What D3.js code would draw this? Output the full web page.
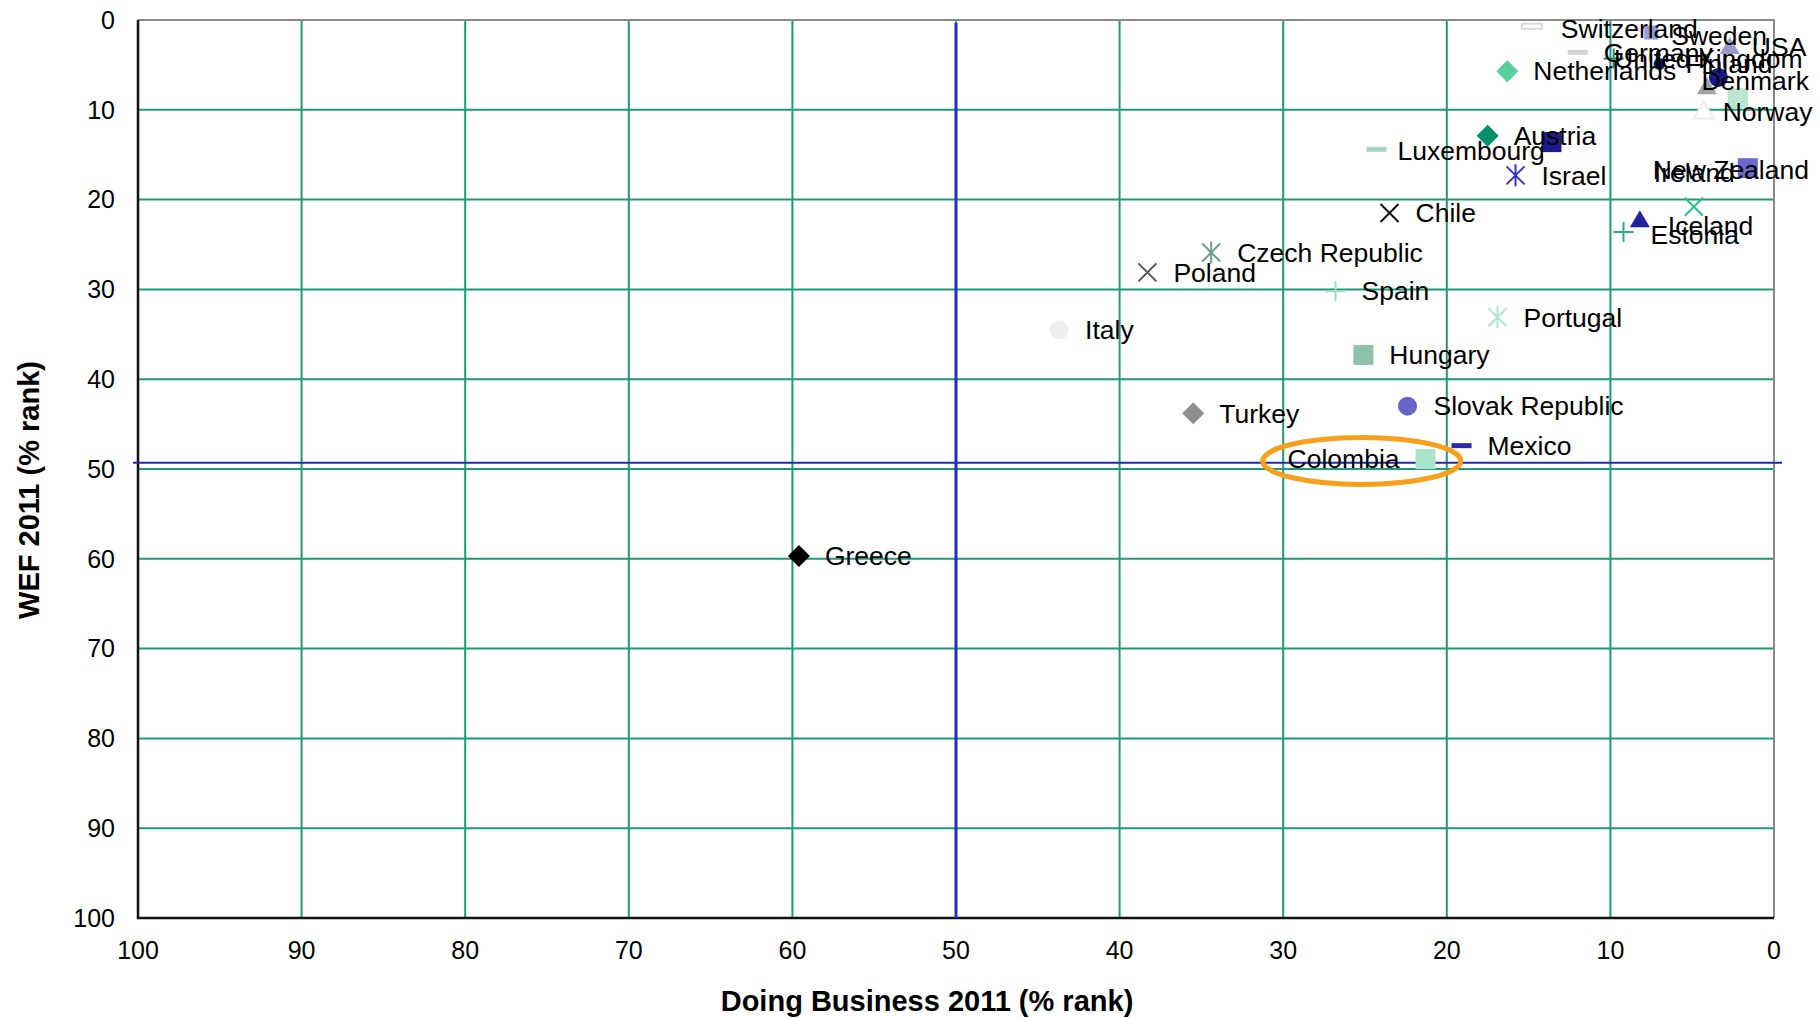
<!DOCTYPE html>
<html>
<head>
<meta charset="utf-8">
<script src="https://cdn.jsdelivr.net/npm/d3@7"></script>
<style>
	body { margin: 0; background: #fff; }
	svg { display: block; font-family: 'Liberation Sans', Arial, sans-serif; }
	.grid line { stroke: #1d9a77; stroke-width: 2; }
	.tick-label { font-size: 25px; fill: #000; }
	.label { font-size: 26.5px; fill: #000; }
	.axis-title { font-size: 29px; font-weight: bold; fill: #000; }
</style>
</head>
<body>
<div class="container"></div>
<script>
// countries and their % rank in Doing Business 2011 (x) and WEF 2011 (y)
var countries = ['Switzerland', 'Sweden', 'Germany', 'USA', 'Japan', 'Finland', 'Denmark', 'Canada',
	'United Kingdom', 'Norway', 'Netherlands', 'Austria', 'Belgium', 'Luxembourg', 'Israel', 'New Zealand',
	'Ireland', 'Iceland', 'Estonia', 'Chile', 'Czech Republic', 'Poland', 'Spain', 'Portugal', 'Italy',
	'Hungary', 'Slovak Republic', 'Turkey', 'Mexico', 'Colombia', 'Greece'];
var doingBusiness = [14.8, 7.5, 12.0, 2.7, 9.8, 7.0, 3.4, 4.1,
	2.2, 4.3, 16.3, 17.5, 13.6, 24.3, 15.8, 1.6,
	4.9, 8.2, 9.2, 23.5, 34.4, 38.3, 26.8, 16.9, 43.7,
	25.1, 22.4, 35.5, 19.1, 21.3, 59.6];
var wef = [0.7, 1.4, 3.6, 3.0, 4.3, 4.9, 6.4, 7.5,
	8.7, 10.2, 5.7, 12.9, 13.6, 14.4, 17.3, 16.5,
	20.8, 22.3, 23.6, 21.5, 25.9, 28.1, 30.2, 33.1, 34.5,
	37.3, 43.0, 43.8, 47.4, 48.9, 59.7];
// points drawn without a text label
var unlabeled = ['Japan', 'Canada', 'Belgium'];

var axisTicks = [0, 10, 20, 30, 40, 50, 60, 70, 80, 90, 100];
var medianDB = 50;
var medianWEF = 49.3;
var highlighted = 'Colombia';
var highlightCenter = [25.2, 49.1];
var highlightRadii = [6.05, 2.62];

// marker shape, fill, stroke
var markerStyle = {
	'Switzerland': ['dash', '#ffffff', '#d9d9d9'],
	'Sweden': ['smallsquare', '#9a9ad8', null],
	'Germany': ['dash', '#d2d2d2', null],
	'USA': ['triangle', '#9999cc', null],
	'Japan': ['plus', null, '#1d8a6c'],
	'Finland': ['smallcircle', '#1a1a8c', null],
	'Denmark': ['circle', '#1a1a8c', null],
	'Canada': ['triangle', '#a3a3a3', null],
	'United Kingdom': ['square', '#bce6d2', null],
	'Norway': ['triangle', '#ffffff', '#eeeeee'],
	'Netherlands': ['diamond', '#57cf9f', null],
	'Austria': ['diamond', '#008f67', null],
	'Belgium': ['square', '#1c1c8e', null],
	'Luxembourg': ['dash', '#a3d9c2', null],
	'Israel': ['asterisk', null, '#3333cc'],
	'New Zealand': ['square', '#6b6bcc', null],
	'Ireland': ['x', null, '#1fc393'],
	'Iceland': ['triangle', '#22229a', null],
	'Estonia': ['plus', null, '#1fb585'],
	'Chile': ['x', null, '#111111'],
	'Czech Republic': ['asterisk', null, '#6f9f8e'],
	'Poland': ['x', null, '#555555'],
	'Spain': ['plus', null, '#a3dcc2'],
	'Portugal': ['asterisk', null, '#b2e4d0'],
	'Italy': ['circle', '#eeeeee', null],
	'Hungary': ['square', '#8fc2a9', null],
	'Slovak Republic': ['circle', '#6666c8', null],
	'Turkey': ['diamond', '#8f8f8f', null],
	'Mexico': ['dash', '#2a2aaa', null],
	'Colombia': ['square', '#ace3cb', null],
	'Greece': ['diamond', '#000000', null]
};

// manual label moves, in pixels
var labelNudge = {
	'Switzerland': [3, 2],
	'Sweden': [-6, 3],
	'USA': [-4, 0],
	'United Kingdom': [-150, -39],
	'Denmark': [-43, 3],
	'Norway': [-7, 0],
	'Luxembourg': [-5, 1],
	'New Zealand': [-121, 2],
	'Ireland': [-66, -34],
	'Iceland': [2, 5],
	'Estonia': [1, 3]
};

var shapes = {
	square: function () { return 'M-10,-10H10V10H-10Z'; },
	smallsquare: function () { return 'M-7,-7H7V7H-7Z'; },
	diamond: function () { return 'M0,-11L11,0L0,11L-11,0Z'; },
	triangle: function () { return 'M0,-10L10,7L-10,7Z'; },
	circle: function () { return d3.symbol(d3.symbolCircle, 283)(); },
	smallcircle: function () { return d3.symbol(d3.symbolCircle, 110)(); },
	dash: function () { return 'M-10,-2.5H10V2.5H-10Z'; },
	plus: function () { return 'M-10,0H10M0,-10V10'; },
	x: function () { return 'M-9,-9L9,9M-9,9L9,-9'; },
	asterisk: function () { return 'M-9,-9L9,9M-9,9L9,-9M0,-11V11'; }
};

var width = 1820,
	height = 1018,
	plotLeft = 138,
	plotRight = 1774,
	plotTop = 20,
	plotBottom = 918;

var x = d3.scaleLinear().domain([100, 0]).range([plotLeft, plotRight]);
var y = d3.scaleLinear().domain([0, 100]).range([plotTop, plotBottom]);

var points = countries.map(function (name, i) {
	return { name: name, db: doingBusiness[i], wef: wef[i] };
});

var svg = d3.select('.container')
	.append('svg')
	.attr('width', width)
	.attr('height', height);

svg.append('rect')
	.attr('width', width)
	.attr('height', height)
	.attr('fill', '#fff');

// grid
var grid = svg.append('g').classed('grid', true);
var inner = axisTicks.filter(function (t) { return t > 0 && t < 100; });

grid.selectAll('.v')
	.data(inner)
	.enter().append('line')
		.attr('x1', function (d) { return x(d); })
		.attr('x2', function (d) { return x(d); })
		.attr('y1', plotTop)
		.attr('y2', plotBottom);

grid.selectAll('.h')
	.data(inner)
	.enter().append('line')
		.attr('x1', plotLeft)
		.attr('x2', plotRight)
		.attr('y1', function (d) { return y(d); })
		.attr('y2', function (d) { return y(d); });

// frame: grey top/right, dark axes left/bottom
svg.append('path')
	.attr('d', 'M' + plotLeft + ',' + plotTop + 'H' + plotRight + 'V' + plotBottom)
	.attr('fill', 'none')
	.attr('stroke', '#8a8a8a')
	.attr('stroke-width', 2);

svg.append('path')
	.attr('d', 'M' + plotLeft + ',' + plotTop + 'V' + plotBottom + 'H' + plotRight)
	.attr('fill', 'none')
	.attr('stroke', '#111')
	.attr('stroke-width', 2.5);

// median lines
svg.append('line')
	.attr('x1', x(medianDB))
	.attr('x2', x(medianDB))
	.attr('y1', plotTop + 3)
	.attr('y2', plotBottom)
	.attr('stroke', '#1f2fc4')
	.attr('stroke-width', 3);

svg.append('line')
	.attr('x1', plotLeft - 5)
	.attr('x2', plotRight + 8)
	.attr('y1', y(medianWEF))
	.attr('y2', y(medianWEF))
	.attr('stroke', '#2626b4')
	.attr('stroke-width', 2);

// tick labels
svg.selectAll('.xtick')
	.data(axisTicks)
	.enter().append('text')
		.classed('tick-label', true)
		.attr('x', function (d) { return x(d); })
		.attr('y', plotBottom + 32)
		.attr('dy', '.35em')
		.attr('text-anchor', 'middle')
		.text(function (d) { return d; });

svg.selectAll('.ytick')
	.data(axisTicks)
	.enter().append('text')
		.classed('tick-label', true)
		.attr('x', plotLeft - 23)
		.attr('y', function (d) { return y(d); })
		.attr('dy', '.35em')
		.attr('text-anchor', 'end')
		.text(function (d) { return d; });

svg.append('text')
	.classed('axis-title', true)
	.attr('x', 927)
	.attr('y', 1001)
	.attr('dy', '.35em')
	.attr('text-anchor', 'middle')
	.text('Doing Business 2011 (% rank)');

svg.append('text')
	.classed('axis-title', true)
	.attr('transform', 'translate(29,490) rotate(-90)')
	.attr('dy', '.35em')
	.attr('text-anchor', 'middle')
	.text('WEF 2011 (% rank)');

// markers
svg.append('g')
	.selectAll('path')
	.data(points)
	.enter().append('path')
		.attr('transform', function (d) { return 'translate(' + x(d.db) + ',' + y(d.wef) + ')'; })
		.attr('d', function (d) { return shapes[markerStyle[d.name][0]](); })
		.attr('fill', function (d) { return markerStyle[d.name][1] || 'none'; })
		.attr('stroke', function (d) { return markerStyle[d.name][2] || 'none'; })
		.attr('stroke-width', 2);

// labels
svg.append('g')
	.selectAll('text')
	.data(points.filter(function (d) { return unlabeled.indexOf(d.name) < 0; }))
	.enter().append('text')
		.classed('label', true)
		.attr('x', function (d) {
			var n = labelNudge[d.name] || [0, 0];
			return d.name === highlighted ? x(d.db) - 26 : x(d.db) + 26 + n[0];
		})
		.attr('y', function (d) {
			var n = labelNudge[d.name] || [0, 0];
			return y(d.wef) + n[1];
		})
		.attr('dy', '.35em')
		.attr('text-anchor', function (d) { return d.name === highlighted ? 'end' : 'start'; })
		.text(function (d) { return d.name; });

// highlight ring
svg.append('ellipse')
	.attr('cx', x(highlightCenter[0]))
	.attr('cy', y(highlightCenter[1]))
	.attr('rx', x(0) - x(highlightRadii[0]))
	.attr('ry', y(highlightRadii[1]) - y(0))
	.attr('fill', 'none')
	.attr('stroke', '#f7a01c')
	.attr('stroke-width', 5);
</script>
</body>
</html>
